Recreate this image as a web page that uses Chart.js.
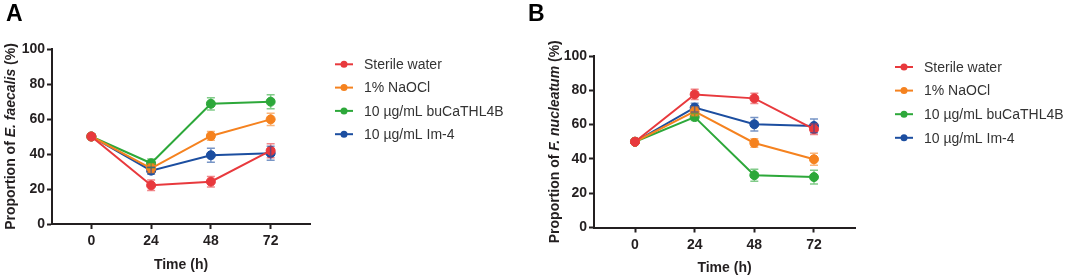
<!DOCTYPE html>
<html>
<head>
<meta charset="utf-8">
<script src="https://cdn.jsdelivr.net/npm/chart.js@4.4.0/dist/chart.umd.min.js"></script>
<style>
  html, body { margin: 0; padding: 0; background: #fff; }
  #wrap { position: relative; width: 1065px; height: 276px; }
  #cA { position: absolute; left: 0; top: 0; }
  #cB { position: absolute; left: 520px; top: 0; }
</style>
</head>
<body>
<div id="wrap">
  <canvas id="cA" width="520" height="276"></canvas>
  <canvas id="cB" width="545" height="276"></canvas>
</div>
<script>
// Tiempos (h) y nombres de grupos
const horas = [0, 24, 48, 72];
const grupos = ['Sterile water', '1% NaOCl', '10 µg/mL buCaTHL4B', '10 µg/mL Im-4'];
const ticksY = [0, 20, 40, 60, 80, 100];

// Panel A - E. faecalis (%)
const aguaA  = [50, 22.1, 24.2, 41.9];
const naoclA = [50, 31.8, 50.3, 59.8];
const bucaA  = [50, 34.7, 68.7, 69.9];
const im4A   = [50, 30.5, 39.3, 40.4];
const errAguaA  = [0, 3, 3, 4];
const errNaoclA = [0, 2.5, 2.5, 3.5];
const errBucaA  = [0, 2.5, 3.5, 4];
const errIm4A   = [0, 2, 4, 4];

// Panel B - F. nucleatum (%)
const aguaB  = [50, 77.6, 75.3, 57.3];
const naoclB = [50, 67.7, 49.3, 39.8];
const bucaB  = [50, 64.4, 30.5, 29.4];
const im4B   = [50, 69.9, 60.2, 59.2];
const errAguaB  = [0, 3, 3, 3];
const errNaoclB = [0, 2.5, 2.5, 3.5];
const errBucaB  = [0, 2, 3.5, 4];
const errIm4B   = [0, 2.5, 4, 4];

const colores = ['#e8393d', '#f5821f', '#2da83a', '#1c4ea0'];
const fuente = 'Arial, "Liberation Sans", Helvetica, sans-serif';
const negro = '#231f20';

// Barras de error (se dibujan encima de las lineas, con transparencia)
const barrasError = {
    id: 'barrasError',
    afterDatasetsDraw(chart) {
        const ctx = chart.ctx;
        const y = chart.scales.y;
        chart.data.datasets.forEach((ds, i) => {
            const meta = chart.getDatasetMeta(i);
            ctx.save();
            ctx.strokeStyle = ds.borderColor;
            ctx.globalAlpha = 0.6;
            ctx.lineWidth = 1.5;
            meta.data.forEach((pt, j) => {
                const e = ds.errores[j];
                if (!e) return;
                const v = ds.data[j].y;
                const yTop = y.getPixelForValue(v + e);
                const yBot = y.getPixelForValue(v - e);
                ctx.beginPath();
                ctx.moveTo(pt.x, yTop); ctx.lineTo(pt.x, yBot);
                ctx.moveTo(pt.x - 4, yTop); ctx.lineTo(pt.x + 4, yTop);
                ctx.moveTo(pt.x - 4, yBot); ctx.lineTo(pt.x + 4, yBot);
                ctx.stroke();
            });
            ctx.restore();
        });
    }
};

// Leyenda, titulos de ejes y letra del panel
const textos = {
    id: 'textos',
    afterDraw(chart, args, opts) {
        const ctx = chart.ctx;
        const area = chart.chartArea;
        ctx.save();

        // letra del panel
        ctx.fillStyle = '#000';
        ctx.font = 'bold 23px ' + fuente;
        ctx.textAlign = 'left';
        ctx.textBaseline = 'alphabetic';
        ctx.fillText(opts.letra, opts.letraX, 21);

        // titulo eje x
        ctx.fillStyle = negro;
        ctx.font = 'bold 14px ' + fuente;
        ctx.textAlign = 'center';
        ctx.textBaseline = 'middle';
        ctx.fillText('Time (h)', (area.left + area.right) / 2, area.bottom + 41);

        // titulo eje y con nombre en cursiva
        const partes = [['Proportion of ', 'bold 14px '], [opts.especie, 'italic bold 14px '], [' (%)', 'bold 14px ']];
        let total = 0;
        partes.forEach(p => { ctx.font = p[1] + fuente; total += ctx.measureText(p[0]).width; });
        ctx.translate(opts.tituloYX, (area.top + area.bottom) / 2);
        ctx.rotate(-Math.PI / 2);
        ctx.textAlign = 'left';
        let x = -total / 2;
        partes.forEach(p => {
            ctx.font = p[1] + fuente;
            ctx.fillText(p[0], x, 0);
            x += ctx.measureText(p[0]).width;
        });
        ctx.setTransform(1, 0, 0, 1, 0, 0);

        // leyenda
        ctx.font = '14px ' + fuente;
        ctx.textAlign = 'left';
        ctx.textBaseline = 'middle';
        chart.data.datasets.forEach((ds, i) => {
            const yy = opts.leyendaY + i * opts.paso;
            ctx.strokeStyle = ds.borderColor;
            ctx.lineWidth = 2;
            ctx.beginPath();
            ctx.moveTo(opts.leyendaX, yy);
            ctx.lineTo(opts.leyendaX + 18, yy);
            ctx.stroke();
            ctx.fillStyle = ds.borderColor;
            ctx.beginPath();
            ctx.arc(opts.leyendaX + 9, yy, 3.5, 0, Math.PI * 2);
            ctx.fill();
            ctx.fillStyle = '#333';
            ctx.fillText(ds.label, opts.leyendaX + 29, yy + 1);
        });
        ctx.restore();
    }
};

function escala(extra) {
    return Object.assign({
        grid: { drawOnChartArea: false, drawTicks: true, tickLength: 5, tickColor: negro, tickWidth: 2 },
        border: { color: negro, width: 2 }
    }, extra);
}

function crearGrafica(id, series, errores, cfg) {
    const ctx = document.getElementById(id).getContext('2d');
    return new Chart(ctx, {
        type: 'line',
        data: {
            datasets: series.map((s, i) => ({
                label: grupos[i],
                data: s.map((v, j) => ({ x: horas[j], y: v })),
                errores: errores[i],
                borderColor: colores[i],
                backgroundColor: colores[i],
                pointBackgroundColor: colores[i],
                pointBorderColor: colores[i],
                pointRadius: 4.5,
                pointBorderWidth: 1,
                borderWidth: 2,
                tension: 0,
                clip: false
            }))
        },
        options: {
            responsive: false,
            animation: false,
            devicePixelRatio: 1,
            layout: { padding: { top: cfg.arriba, right: cfg.derecha, left: 0, bottom: 0 } },
            plugins: {
                legend: { display: false },
                tooltip: { enabled: false },
                textos: cfg.textos
            },
            scales: {
                x: escala({
                    type: 'linear', min: cfg.xMin, max: cfg.xMax,
                    afterBuildTicks(s) { s.ticks = horas.map(v => ({ value: v })); },
                    afterFit(s) { s.height = cfg.altoX; },
                    ticks: { color: negro, padding: 4, maxRotation: 0, font: { family: fuente, size: 14, weight: 'bold' } }
                }),
                y: escala({
                    min: 0, max: 100,
                    afterBuildTicks(s) { s.ticks = ticksY.map(v => ({ value: v })); },
                    afterFit(s) { s.width = cfg.anchoY; },
                    ticks: { color: negro, padding: 2, font: { family: fuente, size: 14, weight: 'bold' } }
                })
            }
        },
        plugins: [barrasError, textos]
    });
}

crearGrafica('cA',
    [aguaA, naoclA, bucaA, im4A],
    [errAguaA, errNaoclA, errBucaA, errIm4A],
    {
        arriba: 49, derecha: 210, altoX: 52, anchoY: 52, xMin: -15.8, xMax: 87.8,
        textos: { letra: 'A', letraX: 6, especie: 'E. faecalis', tituloYX: 11, leyendaX: 335, leyendaY: 64.3, paso: 23.3 }
    });

crearGrafica('cB',
    [aguaB, naoclB, bucaB, im4B],
    [errAguaB, errNaoclB, errBucaB, errIm4B],
    {
        arriba: 56, derecha: 210, altoX: 48.5, anchoY: 74, xMin: -16.5, xMax: 88.5,
        textos: { letra: 'B', letraX: 8, especie: 'F. nucleatum', tituloYX: 35, leyendaX: 375, leyendaY: 67, paso: 23.6 }
    });
</script>
</body>
</html>
